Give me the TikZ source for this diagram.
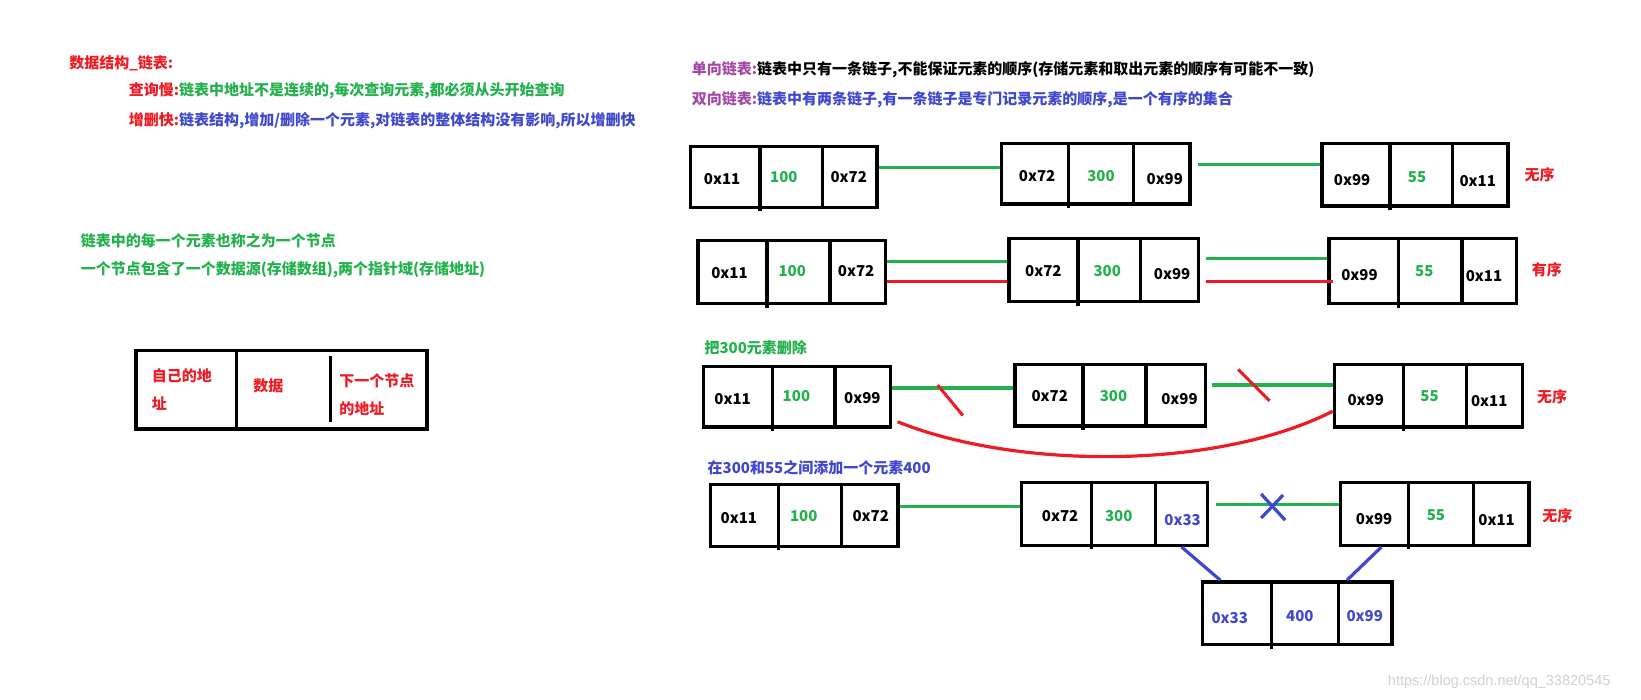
\documentclass[tikz,border=0pt]{standalone}
\usepackage{fontspec}
\setmainfont{Noto Sans CJK SC}
\newfontfamily\wmfont{Liberation Sans}
\usetikzlibrary{fit,calc}
\definecolor{pred}{HTML}{ED1C24}
\definecolor{pgreen}{HTML}{22B14C}
\definecolor{pblue}{HTML}{3F48CC}
\definecolor{ppurple}{HTML}{A349A4}
\tikzset{
  boxline/.style={line width=3.4pt, draw=black},
  txt/.style={inner sep=0pt, font=\fontsize{15}{18}\selectfont\bfseries},
  addr/.style={txt, text=black},
  val/.style={txt, text=pgreen},
  bval/.style={txt, text=pblue},
  rlab/.style={txt, text=pred},
  glink/.style={line width=3.6pt, draw=pgreen},
  rlink/.style={line width=3.6pt, draw=pred},
  blink/.style={line width=3.2pt, draw=pblue},
  cut/.style={line width=3pt, draw=pred},
  lefttxt/.style={txt, anchor=west},
}
\newcommand\lnode[7]{%
  \node[boxline, draw, inner sep=0pt, fit={(#2,#3)(#4,#5)}] (#1) {};
  \draw[boxline] (#6,#3) -- (#6,{#5+4});
  \draw[boxline] (#7,#3) -- (#7,#5);
}
\begin{document}
\begin{tikzpicture}[x=1.0466pt, y=-1.0466pt]
\useasboundingbox[fill=white] (0,0) rectangle (1568,668);

% ---------- left texts ----------
\node[lefttxt, text=pred] (t0) at (66,60) {数据结构\_链表:};
\node[lefttxt] (t1) at (123,87) {\textcolor{pred}{查询慢:}\textcolor{pgreen}{链表中地址不是连续的,每次查询元素,都必须从头开始查询}};
\node[lefttxt] (t2) at (123,115) {\textcolor{pred}{增删快:}\textcolor{pblue}{链表结构,增加/删除一个元素,对链表的整体结构没有影响,所以增删快}};
\node[lefttxt, text=pgreen] (t3) at (77,230) {链表中的每一个元素也称之为一个节点};
\node[lefttxt, text=pgreen] (t4) at (77,258) {一个节点包含了一个数据源(存储数组),两个指针域(存储地址)};

% ---------- legend node ----------
\node[boxline, draw, inner sep=0pt, fit={(130,335)(408,410)}] (L) {};
\draw[boxline] (226,335) -- (226,410);
\draw[boxline] (316,340) -- (316,403);
\node[lefttxt, text=pred] (L1) at (145,359) {自己的地};
\node[lefttxt, text=pred] (L2) at (145,386) {址};
\node[lefttxt, text=pred] (L3) at (242,369) {数据};
\node[lefttxt, text=pred] (L4) at (324,364) {下一个节点};
\node[lefttxt, text=pred] (L5) at (324,391) {的地址};

% ---------- header texts ----------
\node[lefttxt] (h1) at (661,67) {\textcolor{ppurple}{单向链表:}\textcolor{black}{链表中只有一条链子,不能保证元素的顺序(存储元素和取出元素的顺序有可能不一致)}};
\node[lefttxt] (h2) at (661,95) {\textcolor{ppurple}{双向链表:}\textcolor{pblue}{链表中有两条链子,有一条链子是专门记录元素的顺序,是一个有序的集合}};

% ---------- row 1 ----------
\lnode{A1}{660}{140}{838}{198}{726}{786}
\node[addr] (a1a) at (690,171) {0x11};
\node[val]  (a1b) at (749,169) {100};
\node[addr] (a1c) at (811,169) {0x72};
\lnode{B1}{957}{137}{1137}{195}{1021}{1083}
\node[addr] (b1a) at (991,168) {0x72};
\node[val]  (b1b) at (1052,168) {300};
\node[addr] (b1c) at (1113,171) {0x99};
\lnode{C1}{1263}{137}{1441}{197}{1328}{1388}
\node[addr] (c1a) at (1292,172) {0x99};
\node[val]  (c1b) at (1354,169) {55};
\node[addr] (c1c) at (1412,173) {0x11};
\node[rlab] (r1) at (1471,167) {无序};
\draw[glink] (A1.east |- 0,160) -- (B1.west |- 0,160);
\draw[glink] ($(B1.east |- 0,157)+(6,0)$) -- (C1.west |- 0,157);

% ---------- row 2 ----------
\lnode{A2}{667}{230}{846}{290}{733}{793}
\node[addr] (a2a) at (697,261) {0x11};
\node[val]  (a2b) at (757,259) {100};
\node[addr] (a2c) at (818,259) {0x72};
\lnode{B2}{964}{228}{1145}{288}{1030}{1090}
\node[addr] (b2a) at (997,259) {0x72};
\node[val]  (b2b) at (1058,259) {300};
\node[addr] (b2c) at (1120,262) {0x99};
\lnode{C2}{1270}{228}{1449}{290}{1336}{1397}
\node[addr] (c2a) at (1299,263) {0x99};
\node[val]  (c2b) at (1361,259) {55};
\node[addr] (c2c) at (1418,264) {0x11};
\node[rlab] (r2) at (1478,258) {有序};
\draw[glink] (A2.east |- 0,250) -- (B2.west |- 0,250);
\draw[rlink] (A2.east |- 0,269) -- (B2.west |- 0,269);
\draw[glink] ($(B2.east |- 0,247)+(6,0)$) -- (C2.west |- 0,247);
\draw[rlink] ($(B2.east |- 0,269)+(6,0)$) -- ($(C2.west |- 0,269)+(5,0)$);

% ---------- row 3 ----------
\node[lefttxt, text=pgreen] (t5) at (673,332) {把300元素删除};
\lnode{A3}{672}{350}{851}{408}{738}{798}
\node[addr] (a3a) at (700,381) {0x11};
\node[val]  (a3b) at (761,378) {100};
\node[addr] (a3c) at (824,380) {0x99};
\lnode{B3}{970}{348}{1152}{407}{1035}{1095}
\node[addr] (b3a) at (1003,378) {0x72};
\node[val]  (b3b) at (1064,378) {300};
\node[addr] (b3c) at (1127,381) {0x99};
\lnode{C3}{1275}{348}{1455}{408}{1341}{1401}
\node[addr] (c3a) at (1305,382) {0x99};
\node[val]  (c3b) at (1366,379) {55};
\node[addr] (c3c) at (1423,383) {0x11};
\node[rlab] (r3) at (1483,379) {无序};
\draw[glink] (A3.east |- 0,371) -- (B3.west |- 0,371);
\draw[glink] ($(B3.east |- 0,368)+(4,0)$) -- (C3.west |- 0,368);
\draw[cut] (896,368) -- (920,397);
\draw[cut] (1183,353) -- (1213,383);
\draw[rlink, line width=3.2pt] ($(A3.east |- 0,403)+(5,0)$) .. controls (970,448) and (1160,450) .. (C3.west |- 0,393);

% ---------- row 4 ----------
\node[lefttxt, text=pblue] (t6) at (676,447) {在300和55之间添加一个元素400};
\lnode{A4}{679}{463}{858}{522}{744}{804}
\node[addr] (a4a) at (706,495) {0x11};
\node[val]  (a4b) at (768,493) {100};
\node[addr] (a4c) at (832,493) {0x72};
\lnode{B4}{976}{461}{1154}{521}{1043}{1104}
\node[addr] (b4a) at (1013,493) {0x72};
\node[val]  (b4b) at (1069,493) {300};
\node[bval] (b4c) at (1130,497) {0x33};
\lnode{C4}{1281}{461}{1461}{521}{1346}{1408}
\node[addr] (c4a) at (1313,496) {0x99};
\node[val]  (c4b) at (1372,492) {55};
\node[addr] (c4c) at (1430,497) {0x11};
\node[rlab] (r4) at (1488,493) {无序};
\lnode{D4}{1149}{556}{1330}{616}{1215}{1279}
\node[bval] (d4a) at (1175,591) {0x33};
\node[bval] (d4b) at (1242,589) {400};
\node[bval] (d4c) at (1304,589) {0x99};
\draw[glink] (A4.east |- 0,484) -- (B4.west |- 0,484);
\draw[glink] ($(B4.east |- 0,482)+(6,0)$) -- (C4.west |- 0,482);
\draw[blink] (1205,472) -- (1228,497);
\draw[blink] (1226,473) -- (1205,495);
\draw[blink] (B4.south -| 1129,0) -- (D4.north -| 1166,0);
\draw[blink] (C4.south -| 1320,0) -- (D4.north -| 1287,0);

% ---------- watermark ----------
\node[inner sep=0pt, anchor=west, text=black!18, font=\fontsize{14.5}{16}\selectfont\wmfont] (wm) at (1326,651) {https://blog.csdn.net/qq\_33820545};
\end{tikzpicture}
\end{document}
